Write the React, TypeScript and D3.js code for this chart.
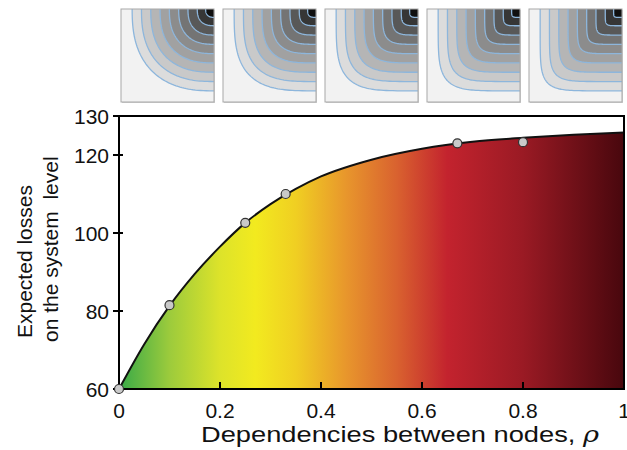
import React from "react";
import * as d3 from "d3";

// main curve
const curveRho = [0, 0.05, 0.1, 0.15, 0.2, 0.25, 0.3, 0.35, 0.4, 0.5, 0.6, 0.7, 0.8, 0.9, 1];
const curveLoss = [60, 71.5, 81.3, 89.5, 96.5, 102.6, 107.4, 111.3, 114.5, 118.8, 121.6, 123.4, 124.4, 125.2, 125.8];

// simulated points
const pointRho = [0, 0.1, 0.25, 0.33, 0.67, 0.8];
const pointLoss = [60, 81.5, 102.6, 110, 123, 123.3];

const yTicks = [60, 80, 100, 120, 130];
const xTicks = [0, 0.2, 0.4, 0.6, 0.8, 1];

// gradient stops along rho
const gradOffsets = [0, 0.1, 0.2, 0.27, 0.35, 0.45, 0.55, 0.65, 0.8, 1];
const gradColors = ["#37a948", "#9ccb3c", "#dde32a", "#f2ea1f", "#f0cf22", "#e8962c", "#d9622f", "#c3232e", "#9a1a24", "#48070d"];

// thumbnails: corner sharpness of each panel, contour radii, band shades
const thumbExponents = [2.5, 3.3, 4.3, 5.5, 7];
const contourLevels = [0.88, 0.78, 0.68, 0.58, 0.48, 0.38, 0.28, 0.18, 0.09];
const bandShades = ["#dcdcdc", "#c9c9c9", "#b5b5b5", "#a1a1a1", "#8c8c8c", "#747474", "#585858", "#363636", "#101010"];

const margin = { left: 119, right: 3, top: 116, bottom: 61 };
const W = 627;
const H = 450;

const font = "'Liberation Sans', Arial, sans-serif";

function Thumb({ x0, y0, size, p, idx }: { x0: number; y0: number; size: number; p: number; idx: number }) {
  const sx = d3.scaleLinear().domain([0, 1]).range([x0 + size, x0]);
  const sy = d3.scaleLinear().domain([0, 1]).range([y0, y0 + size]);
  const ts = d3.range(0, 1.0001, 1 / 60).map((t) => (t * Math.PI) / 2);
  const ring = (r: number) =>
    ts.map((t) => [r * Math.pow(Math.cos(t), 2 / p), r * Math.pow(Math.sin(t), 2 / p)] as [number, number]);
  const line = d3.line<[number, number]>().x((d) => sx(d[0])).y((d) => sy(d[1]));
  const clipId = `thumbclip${idx}`;
  return (
    <g>
      <defs>
        <clipPath id={clipId}>
          <rect x={x0} y={y0} width={size} height={size} />
        </clipPath>
      </defs>
      <rect x={x0 + 1} y={y0 + 1} width={size} height={size} fill="#d0d0d0" />
      <rect x={x0} y={y0} width={size} height={size} fill="#f2f2f2" />
      <g clipPath={`url(#${clipId})`}>
        {contourLevels.map((r, i) => (
          <path key={"f" + i} d={line([[0, 0], ...ring(r), [0, 0]])! + "Z"} fill={bandShades[i]} />
        ))}
        {contourLevels.map((r, i) => (
          <path key={"l" + i} d={line(ring(r))!} fill="none" stroke="#8db6dc" strokeWidth={1.3} />
        ))}
      </g>
      <rect x={x0} y={y0} width={size} height={size} fill="none" stroke="#a8a8a8" strokeWidth={1} />
    </g>
  );
}

export default function App() {
  const x = d3.scaleLinear().domain([0, 1]).range([margin.left, W - margin.right]);
  const y = d3.scaleLinear().domain([60, 130]).range([H - margin.bottom, margin.top]);
  const pts = curveRho.map((r, i) => [r, curveLoss[i]] as [number, number]);
  const lineGen = d3.line<[number, number]>().x((d) => x(d[0])).y((d) => y(d[1])).curve(d3.curveMonotoneX);
  const areaGen = d3
    .area<[number, number]>()
    .x((d) => x(d[0]))
    .y0(y(60))
    .y1((d) => y(d[1]))
    .curve(d3.curveMonotoneX);

  const x0 = x(0), x1 = x(1), yb = y(60), yt = y(130);

  return (
    <svg width={W} height={H} style={{ position: "absolute", left: 0, top: 0, background: "#fff" }} fontFamily={font}>
      <defs>
        <linearGradient id="lossGrad" gradientUnits="userSpaceOnUse" x1={x0} x2={x1} y1={0} y2={0}>
          {gradOffsets.map((o, i) => (
            <stop key={i} offset={o} stopColor={gradColors[i]} />
          ))}
        </linearGradient>
      </defs>

      {thumbExponents.map((p, i) => (
        <Thumb key={i} idx={i} x0={121 + i * 102} y0={9} size={93} p={p} />
      ))}

      <path d={areaGen(pts)!} fill="url(#lossGrad)" />
      <path d={lineGen(pts)!} fill="none" stroke="#111" strokeWidth={2} />

      {/* frame */}
      <path d={`M${x0},${yb}V${yt}H${x1}V${yb}Z`} fill="none" stroke="#000" strokeWidth={2} />

      {yTicks.map((t) => (
        <g key={t}>
          <line x1={x0 - 6} x2={x0 + 4} y1={y(t)} y2={y(t)} stroke="#000" strokeWidth={2} />
          <text x={x0 - 10} y={y(t) + 7.5} textAnchor="end" fontSize={21} fill="#111">
            {t}
          </text>
        </g>
      ))}
      {xTicks.map((t) => (
        <g key={t}>
          <line x1={x(t)} x2={x(t)} y1={yb} y2={yb - 7} stroke="#000" strokeWidth={2} />
          <text x={x(t)} y={yb + 29} textAnchor="middle" fontSize={21} fill="#111">
            {t}
          </text>
        </g>
      ))}

      {pointRho.map((r, i) => (
        <circle key={i} cx={x(r)} cy={y(pointLoss[i])} r={4.5} fill="#c9c9c9" stroke="#333" strokeWidth={1.2} />
      ))}

      <text x={201} y={442} fontSize={22} fill="#111" textLength={398} lengthAdjust="spacingAndGlyphs">
        Dependencies between nodes, <tspan fontStyle="italic" fontFamily="'DejaVu Serif', serif">ρ</tspan>
      </text>
      <text transform="translate(32,338) rotate(-90)" textAnchor="start" fontSize={21} fill="#111">
        Expected losses
      </text>
      <text transform="translate(58,342) rotate(-90)" textAnchor="start" fontSize={21} fill="#111" style={{ whiteSpace: "pre" }}>
        {"on the system  level"}
      </text>
    </svg>
  );
}
